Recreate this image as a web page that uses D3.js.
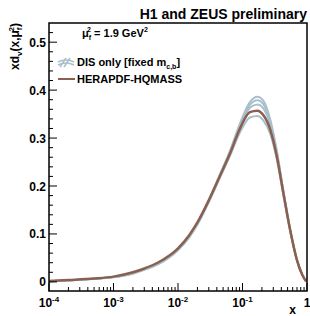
<!DOCTYPE html>
<html>
<head>
<meta charset="utf-8">
<script src="https://cdn.jsdelivr.net/npm/d3@7"></script>
<style>
body { margin:0; background:#fff; }
svg { font-family: "Liberation Sans", Arial, sans-serif; font-weight:bold; }
</style>
</head>
<body>
<svg id="chart"></svg>
<script>
// x values (log scale) and curves
var xVals = [1e-4, 2e-4, 5e-4, 1e-3, 2e-3, 3e-3, 5e-3, 1e-2, 0.015, 0.02, 0.03, 0.045, 0.065, 0.09, 0.13, 0.17, 0.21, 0.27, 0.34, 0.43, 0.55, 0.7, 0.85, 0.97]
var heraQM = [0.002, 0.004, 0.007, 0.011, 0.020, 0.028, 0.041, 0.070, 0.098, 0.124, 0.170, 0.222, 0.270, 0.318, 0.354, 0.357, 0.348, 0.317, 0.262, 0.185, 0.107, 0.045, 0.014, 0.001]
var disA = [0.0015, 0.0035, 0.0065, 0.010, 0.018, 0.026, 0.039, 0.068, 0.096, 0.123, 0.171, 0.225, 0.276, 0.328, 0.375, 0.386, 0.378, 0.338, 0.274, 0.190, 0.108, 0.045, 0.014, 0.001]
var disB = [0.0015, 0.0035, 0.0065, 0.010, 0.018, 0.026, 0.039, 0.068, 0.096, 0.123, 0.170, 0.224, 0.274, 0.325, 0.369, 0.379, 0.371, 0.333, 0.271, 0.189, 0.108, 0.045, 0.014, 0.001]
var disC = [0.0015, 0.0035, 0.0065, 0.010, 0.018, 0.026, 0.039, 0.068, 0.096, 0.122, 0.169, 0.222, 0.271, 0.321, 0.363, 0.370, 0.362, 0.327, 0.268, 0.188, 0.107, 0.045, 0.014, 0.001]
var disD = [0.0015, 0.003, 0.006, 0.0095, 0.017, 0.025, 0.037, 0.066, 0.093, 0.119, 0.166, 0.218, 0.265, 0.310, 0.343, 0.346, 0.337, 0.308, 0.256, 0.182, 0.106, 0.045, 0.014, 0.001]

var yTicks = [0, 0.1, 0.2, 0.3, 0.4, 0.5]
var xTickExp = [-4, -3, -2, -1, 0]

var screen = {width:310, height:316}
var margins = {top:23, right:3, bottom:25, left:49}

var svg = d3.select("#chart")
    .attr("width", screen.width)
    .attr("height", screen.height)

var width = screen.width - margins.left - margins.right
var height = screen.height - margins.top - margins.bottom

var xScale = d3.scaleLog()
    .domain([1e-4, 1])
    .range([margins.left, margins.left + width])
var yScale = d3.scaleLinear()
    .domain([-0.019, 0.54])
    .range([margins.top + height, margins.top])

var line = d3.line()
    .x(function(d){return xScale(d[0])})
    .y(function(d){return yScale(d[1])})
    .curve(d3.curveMonotoneX)

var pair = function(arr){ return arr.map(function(v,i){return [xVals[i], v]}) }

svg.append("clipPath").attr("id","clip")
    .append("rect")
    .attr("x", margins.left).attr("y", margins.top)
    .attr("width", width).attr("height", height)

var plot = svg.append("g").attr("clip-path","url(#clip)")

// DIS only band (drawn as light outlines)
;[disD, disC, disB, disA].forEach(function(arr){
    plot.append("path")
        .attr("d", line(pair(arr)))
        .attr("fill","none")
        .attr("stroke","#a8bfcc")
        .attr("stroke-width",2)
})

plot.append("path")
    .attr("d", line(pair(heraQM)))
    .attr("fill","none")
    .attr("stroke","#8a5f4f")
    .attr("stroke-width",2.5)

// axes ticks (inside, ROOT style)
var axisG = svg.append("g").attr("stroke","#000")
var bottom = margins.top + height

// y ticks: major 0.1, minor 0.02
d3.range(0, 27).forEach(function(i){
    var v = i*0.02
    if (v > 0.54) return
    var major = (i % 5 === 0)
    axisG.append("line")
        .attr("x1", margins.left).attr("x2", margins.left + (major ? 8 : 4))
        .attr("y1", yScale(v)).attr("y2", yScale(v))
        .attr("stroke-width",1)
})
svg.selectAll(".ylab").data(yTicks).enter().append("text")
    .attr("class","ylab")
    .attr("x", margins.left - 3)
    .attr("y", function(d){return yScale(d) + 4.5})
    .attr("text-anchor","end")
    .attr("font-size",12)
    .text(function(d){return d === 0 ? "0" : d.toFixed(1)})

// x ticks: decades major, 2..9 minor
xTickExp.forEach(function(e){
    var base = Math.pow(10, e)
    axisG.append("line")
        .attr("x1", xScale(base)).attr("x2", xScale(base))
        .attr("y1", bottom).attr("y2", bottom - 8)
        .attr("stroke-width",1)
    if (e < 0) {
        d3.range(2, 10).forEach(function(k){
            axisG.append("line")
                .attr("x1", xScale(base*k)).attr("x2", xScale(base*k))
                .attr("y1", bottom).attr("y2", bottom - 4)
                .attr("stroke-width",1)
        })
    }
})
xTickExp.forEach(function(e){
    var t = svg.append("text")
        .attr("x", xScale(Math.pow(10,e)))
        .attr("y", bottom + 16)
        .attr("text-anchor","middle")
        .attr("font-size",12)
    if (e === 0) { t.text("1"); return }
    t.append("tspan").text("10")
    t.append("tspan").attr("font-size",8).attr("dy",-5).text(String(e))
})

// frame
svg.append("rect")
    .attr("x", margins.left).attr("y", margins.top)
    .attr("width", width).attr("height", height)
    .attr("fill","none").attr("stroke","#000").attr("stroke-width",1.5)

// title
svg.append("text")
    .attr("x", 307).attr("y", 19)
    .attr("text-anchor","end")
    .attr("font-size",14)
    .text("H1 and ZEUS preliminary")

// axis labels
svg.append("text")
    .attr("x", 296).attr("y", 314)
    .attr("text-anchor","end")
    .attr("font-size",12)
    .text("x")

var yl = svg.append("text")
    .attr("transform","translate(19,23) rotate(-90)")
    .attr("text-anchor","end")
    .attr("font-size",12)
yl.append("tspan").text("xd")
yl.append("tspan").attr("font-size",8).attr("dy",3).text("v")
yl.append("tspan").attr("dy",-3).text("(x,\u03bc")
yl.append("tspan").attr("font-size",8).attr("dy",3).text("f")
yl.append("tspan").attr("font-size",8).attr("dx",-4).attr("dy",-8).text("2")
yl.append("tspan").attr("dy",5).text(")")

// scale annotation
var ann = svg.append("text").attr("x", 82).attr("y", 37).attr("font-size",11)
ann.append("tspan").text("\u03bc")
ann.append("tspan").attr("font-size",7).attr("dy",3).text("f")
ann.append("tspan").attr("font-size",7).attr("dx",-4).attr("dy",-8).text("2")
ann.append("tspan").attr("dy",5).text(" = 1.9 GeV")
ann.append("tspan").attr("font-size",7).attr("dy",-5).text("2")

// legend
var leg = svg.append("g")
var hatch = leg.append("g").attr("stroke","#a8bfcc").attr("stroke-width",1.5).attr("fill","none")
;[0, 4].forEach(function(o){
    hatch.append("path").attr("d","M"+(60+o)+",67 L"+(66+o)+",58")
})
hatch.append("path").attr("d","M58,62 Q66,58 74,62")
hatch.append("path").attr("d","M58,65 Q66,61 74,65")

var l1 = leg.append("text").attr("x", 77).attr("y", 66).attr("font-size",11)
l1.append("tspan").text("DIS only [fixed m")
l1.append("tspan").attr("font-size",7).attr("dy",3).text("c,b")
l1.append("tspan").attr("dy",-3).text("]")

leg.append("line")
    .attr("x1",58).attr("x2",75).attr("y1",79).attr("y2",79)
    .attr("stroke","#8a5f4f").attr("stroke-width",2)
leg.append("text").attr("x", 77).attr("y", 83).attr("font-size",11)
    .text("HERAPDF-HQMASS")
</script>
</body>
</html>
